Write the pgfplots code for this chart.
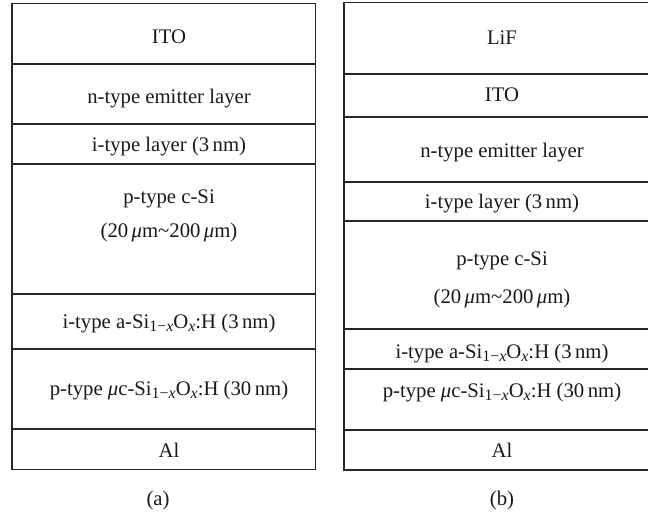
\documentclass[border=0pt]{standalone}
\usepackage{fontspec}
\setmainfont{Liberation Serif}
\usepackage{pgfplots}
\pgfplotsset{compat=1.18}
% subscripts set close to the main size, as in the layer labels
\newcommand{\sub}[1]{\raisebox{-3.4bp}{\fontsize{16}{16}\selectfont #1}}
\newcommand{\SiOx}{Si\sub{1−\textit{x}}O\sub{\textit{x}}}
\tikzset{
  layer/.style={draw=black!85, line width=1.3bp, mark=none},
  lbl/.style={anchor=base, inner sep=0pt, text=black!90, font=\fontsize{20.8}{24}\selectfont},
}
\begin{document}
\begin{tikzpicture}
\begin{axis}[
  scale only axis, width=648bp, height=513bp,
  xmin=0, xmax=648, ymin=0, ymax=513, y dir=reverse,
  hide axis, clip=true,
  unbounded coords=jump,
]
\addplot[draw=none] coordinates {(0,0) (648,513)};
% stack (a): outline and layer interfaces
\addplot[layer] coordinates {(12,3.5) (315.5,3.5) (315.5,469.5) (12,469.5) (12,3.5)};
\addplot[layer] coordinates {
  (12,64) (315.5,64) (nan,nan)
  (12,124) (315.5,124) (nan,nan)
  (12,164) (315.5,164) (nan,nan)
  (12,294) (315.5,294) (nan,nan)
  (12,349) (315.5,349) (nan,nan)
  (12,429) (315.5,429)};
% stack (b): outline and layer interfaces
\addplot[layer] coordinates {(662,2.7) (344,2.7) (344,470) (662,470)};
\addplot[layer] coordinates {
  (344,74) (662,74) (nan,nan)
  (344,117) (662,117) (nan,nan)
  (344,182) (662,182) (nan,nan)
  (344,221) (662,221) (nan,nan)
  (344,329) (662,329) (nan,nan)
  (344,369) (662,369) (nan,nan)
  (344,430) (662,430)};
% labels (a)
\node[lbl] at (axis cs:169,44) {ITO};
\node[lbl] at (axis cs:169,103) {n-type emitter layer};
\node[lbl] at (axis cs:169,151.5) {i-type layer (3\,nm)};
\node[lbl] at (axis cs:169,203.5) {p-type c-Si};
\node[lbl] at (axis cs:169,237) {(20\,\textit{μ}m\textasciitilde200\,\textit{μ}m)};
\node[lbl] at (axis cs:169,328) {i-type a-\SiOx:H (3\,nm)};
\node[lbl] at (axis cs:169,395.5) {p-type \textit{μ}c-\SiOx:H (30\,nm)};
\node[lbl] at (axis cs:169,457) {Al};
\node[lbl] at (axis cs:158,505) {(a)};
% labels (b)
\node[lbl] at (axis cs:502,45) {LiF};
\node[lbl] at (axis cs:502,101.5) {ITO};
\node[lbl] at (axis cs:502,157) {n-type emitter layer};
\node[lbl] at (axis cs:502,208) {i-type layer (3\,nm)};
\node[lbl] at (axis cs:502,265) {p-type c-Si};
\node[lbl] at (axis cs:502,303.5) {(20\,\textit{μ}m\textasciitilde200\,\textit{μ}m)};
\node[lbl] at (axis cs:502,358) {i-type a-\SiOx:H (3\,nm)};
\node[lbl] at (axis cs:502,397) {p-type \textit{μ}c-\SiOx:H (30\,nm)};
\node[lbl] at (axis cs:502,457) {Al};
\node[lbl] at (axis cs:502,505) {(b)};
\end{axis}
\end{tikzpicture}
\end{document}
